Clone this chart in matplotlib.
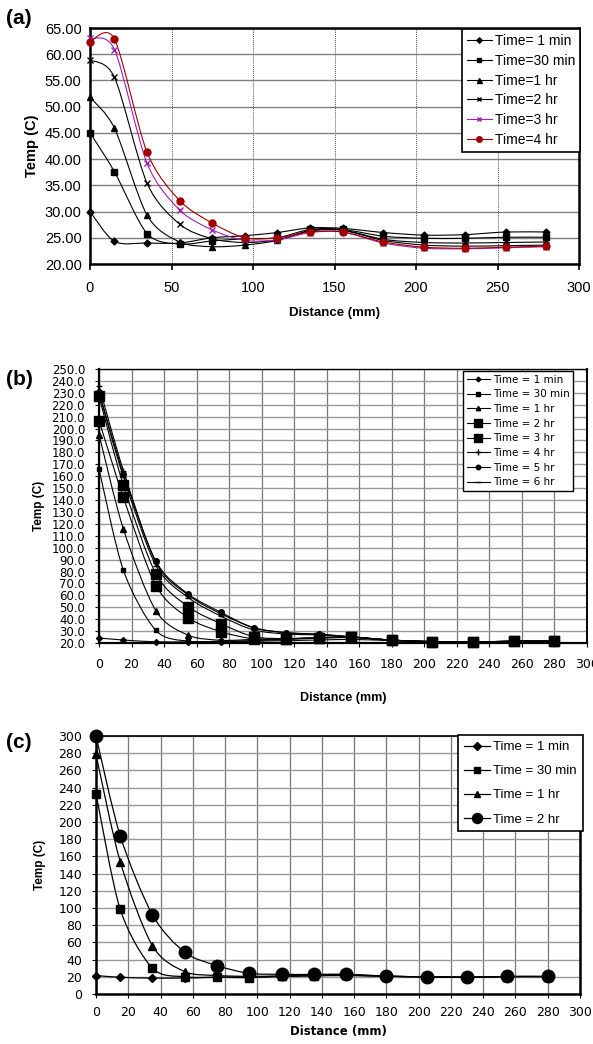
import numpy as np
import matplotlib
matplotlib.use('Agg')
from matplotlib import pyplot as plt
from matplotlib.path import Path
from matplotlib.patches import PathPatch
from matplotlib.lines import Line2D
from matplotlib.ticker import FormatStrFormatter, MultipleLocator

plt.rcParams['font.family'] = ['Liberation Sans', 'DejaVu Sans']

distance = [0, 15, 35, 55, 75, 95, 115, 135, 155, 180, 205, 230, 255, 280]

# panel (a)
labels_a = ['Time= 1 min', 'Time=30 min', 'Time=1 hr', 'Time=2 hr', 'Time=3 hr', 'Time=4 hr']
a_1min = [30.0, 24.3, 24.0, 24.0, 25.0, 25.4, 26.0, 26.9, 26.8, 26.0, 25.5, 25.6, 26.1, 26.1]
a_30min = [45.0, 37.6, 25.8, 23.8, 24.4, 24.8, 25.0, 26.6, 26.6, 25.3, 24.9, 24.9, 25.1, 25.1]
a_1hr = [51.8, 45.9, 29.3, 24.2, 23.3, 23.6, 24.5, 26.4, 26.5, 24.7, 24.1, 24.0, 24.1, 24.2]
a_2hr = [58.9, 55.6, 35.4, 27.6, 24.8, 24.1, 24.6, 26.3, 26.4, 24.5, 23.6, 23.4, 23.5, 23.6]
a_3hr = [63.0, 60.9, 39.2, 30.3, 26.5, 24.5, 24.6, 26.0, 26.1, 24.0, 23.0, 22.9, 23.1, 23.3]
a_4hr = [62.4, 62.9, 41.3, 32.1, 27.8, 25.0, 25.0, 26.1, 26.1, 24.2, 23.2, 23.0, 23.2, 23.4]

# panel (b)
labels_b = ['Time = 1 min', 'Time = 30 min', 'Time = 1 hr', 'Time = 2 hr',
            'Time = 3 hr', 'Time = 4 hr', 'Time = 5 hr', 'Time = 6 hr']
b_1min = [24.2, 22.5, 21.0, 21.0, 21.2, 21.5, 22.0, 22.5, 23.0, 22.0, 21.0, 20.8, 21.3, 21.3]
b_30min = [166.0, 81.0, 30.5, 21.5, 21.5, 22.0, 23.0, 24.0, 24.5, 22.2, 21.0, 20.9, 21.4, 21.4]
b_1hr = [195.0, 115.6, 47.0, 26.5, 22.3, 23.0, 23.5, 24.4, 25.0, 22.3, 21.1, 21.0, 21.5, 21.5]
b_2hr = [206.7, 142.2, 68.2, 41.0, 29.5, 23.5, 23.5, 24.4, 25.0, 22.4, 21.2, 20.9, 21.5, 21.5]
b_3hr = [227.0, 152.5, 78.0, 50.3, 36.2, 25.3, 23.7, 24.6, 25.0, 22.4, 21.2, 20.9, 21.5, 21.5]
b_4hr = [235.8, 164.7, 87.5, 60.0, 44.5, 33.0, 28.5, 27.4, 25.2, 22.4, 21.2, 20.9, 21.5, 21.5]
b_5hr = [231.0, 162.0, 88.5, 61.0, 45.7, 32.6, 28.8, 27.2, 25.2, 22.4, 21.2, 20.9, 21.5, 21.5]
b_6hr = [229.8, 159.5, 85.0, 58.0, 42.5, 31.0, 27.5, 26.8, 25.1, 22.4, 21.2, 20.9, 21.5, 21.5]

# panel (c)
labels_c = ['Time = 1 min', 'Time = 30 min', 'Time = 1 hr', 'Time = 2 hr']
c_1min = [21.5, 19.4, 18.5, 18.6, 19.4, 20.0, 20.5, 21.0, 21.5, 20.5, 20.0, 19.6, 20.2, 20.2]
c_30min = [233.0, 98.5, 30.0, 20.0, 19.5, 19.0, 20.5, 21.5, 22.0, 20.6, 20.0, 19.6, 20.3, 20.3]
c_1hr = [278.5, 154.0, 56.0, 26.0, 21.5, 20.5, 21.0, 22.0, 22.5, 20.7, 20.0, 19.6, 20.3, 20.3]
c_2hr = [300.0, 184.0, 92.0, 48.5, 33.0, 24.0, 22.9, 22.7, 23.0, 20.8, 20.0, 19.6, 20.4, 20.4]

W, H = 593, 1044


def smooth_path(x, y, k=7.0):
    # excel style smoothed line: catmull-rom as cubic bezier
    pts = np.column_stack([np.asarray(x, float), np.asarray(y, float)])
    ext = np.vstack([pts[0], pts, pts[-1]])
    verts = [pts[0]]
    codes = [Path.MOVETO]
    for i in range(len(pts) - 1):
        p0, p1, p2, p3 = ext[i], ext[i + 1], ext[i + 2], ext[i + 3]
        verts += [p1 + (p2 - p0) / k, p2 - (p3 - p1) / k, p2]
        codes += [Path.CURVE4] * 3
    return Path(verts, codes)


def draw_series(ax, y, color, marker, ms, lw=0.9):
    ax.add_patch(PathPatch(smooth_path(distance, y), fill=False, edgecolor=color,
                           lw=lw, zorder=3))
    ax.plot(distance, y, ls='none', marker=marker, color=color, ms=ms,
            mew=1.0, zorder=4, clip_on=False)
    return Line2D([0], [0], color=color, lw=lw, marker=marker, ms=ms * 0.8, mew=1.0)


def make_axes(fig, left, top, right, bottom):
    return fig.add_axes([left / W, 1 - bottom / H, (right - left) / W, (bottom - top) / H])


fig = plt.figure(figsize=(W / 100, H / 100), dpi=100)

# ---- (a)
ax = make_axes(fig, 90, 28, 579, 264)
styles_a = [('black', 'D', 3.5), ('black', 's', 4), ('black', '^', 4.5),
            ('black', 'x', 4), ('#a020b0', 'x', 4), ('#a00000', 'o', 5)]
handles = []
for y, (col, mk, ms) in zip([a_1min, a_30min, a_1hr, a_2hr, a_3hr, a_4hr], styles_a):
    handles.append(draw_series(ax, y, col, mk, ms, lw=0.8))
ax.set_xlim(0, 300)
ax.set_ylim(20, 65)
ax.xaxis.set_major_locator(MultipleLocator(50))
ax.yaxis.set_major_locator(MultipleLocator(5))
ax.yaxis.set_major_formatter(FormatStrFormatter('%.2f'))
ax.grid(axis='y', color='#808080', lw=1.0)
ax.grid(axis='x', color='#555555', lw=0.7, ls=(0, (1, 1)))
ax.set_axisbelow(True)
for s in ax.spines.values():
    s.set_linewidth(1.8)
ax.tick_params(axis='y', labelsize=10.5, length=0, pad=6)
ax.tick_params(axis='x', labelsize=10.5, length=4, width=1.2, pad=8)
ax.set_ylabel('Temp (C)', fontsize=10.5, fontweight='bold', labelpad=4)
ax.set_xlabel('Distance (mm)', fontsize=9.5, fontweight='bold', labelpad=9)
leg = ax.legend(handles, labels_a, loc='upper left', bbox_to_anchor=(462 / W, 1 - 29 / H),
                bbox_transform=fig.transFigure, borderaxespad=0, fancybox=False,
                framealpha=1, edgecolor='black', fontsize=10, handlelength=1.8,
                handletextpad=0.2, labelspacing=0.42, borderpad=0.35)
leg.get_frame().set_linewidth(1.2)
fig.text(6 / W, 1 - 18 / H, '(a)', fontsize=15, fontweight='bold', va='center', ha='left')

# ---- (b)
ax = make_axes(fig, 99, 369, 587, 643)
styles_b = [('D', 3), ('s', 3.5), ('^', 4), ('s', 7), ('s', 7), ('+', 5), ('o', 4), ('_', 5)]
handles = []
for y, (mk, ms) in zip([b_1min, b_30min, b_1hr, b_2hr, b_3hr, b_4hr, b_5hr, b_6hr], styles_b):
    handles.append(draw_series(ax, y, 'black', mk, ms, lw=0.8))
ax.set_xlim(0, 300)
ax.set_ylim(20, 250)
ax.xaxis.set_major_locator(MultipleLocator(20))
ax.yaxis.set_major_locator(MultipleLocator(10))
ax.yaxis.set_major_formatter(FormatStrFormatter('%.1f'))
ax.grid(axis='y', color='#999999', lw=1.0)
ax.grid(axis='x', color='#777777', lw=0.9)
ax.set_axisbelow(True)
for s in ax.spines.values():
    s.set_linewidth(1.0)
ax.spines['left'].set_linewidth(1.6)
ax.spines['bottom'].set_linewidth(1.6)
ax.spines['right'].set_linewidth(1.4)
ax.tick_params(axis='y', labelsize=8.5, length=3, pad=7, labelfontfamily='DejaVu Sans')
ax.tick_params(axis='x', labelsize=9, length=3, pad=8, labelfontfamily='DejaVu Sans')
ax.set_ylabel('Temp (C)', fontsize=8.5, fontweight='bold', labelpad=5)
ax.set_xlabel('Distance (mm)', fontsize=9, fontweight='bold', labelpad=15)
leg = ax.legend(handles, labels_b, loc='upper left', bbox_to_anchor=(463 / W, 1 - 371 / H),
                bbox_transform=fig.transFigure, borderaxespad=0, fancybox=False,
                framealpha=1, edgecolor='black', handlelength=2.2,
                handletextpad=0.3, labelspacing=0.45, borderpad=0.35,
                prop={'family': 'DejaVu Sans', 'size': 7.5})
leg.get_frame().set_linewidth(1.0)
fig.text(6 / W, 1 - 379 / H, '(b)', fontsize=15, fontweight='bold', va='center', ha='left')

# ---- (c)
ax = make_axes(fig, 96, 736, 580, 994)
styles_c = [('D', 4.5), ('s', 5.5), ('^', 6), ('o', 9)]
handles = []
for y, (mk, ms) in zip([c_1min, c_30min, c_1hr, c_2hr], styles_c):
    handles.append(draw_series(ax, y, 'black', mk, ms, lw=0.9))
ax.set_xlim(0, 300)
ax.set_ylim(0, 300)
ax.xaxis.set_major_locator(MultipleLocator(20))
ax.yaxis.set_major_locator(MultipleLocator(20))
ax.yaxis.set_major_formatter(FormatStrFormatter('%d'))
ax.grid(axis='y', color='#999999', lw=1.0)
ax.grid(axis='x', color='#777777', lw=0.9)
ax.set_axisbelow(True)
for s in ax.spines.values():
    s.set_linewidth(1.2)
ax.spines['left'].set_linewidth(1.8)
ax.spines['bottom'].set_linewidth(1.8)
ax.spines['right'].set_linewidth(1.8)
ax.tick_params(axis='y', labelsize=9, length=3, pad=7, labelfontfamily='DejaVu Sans')
ax.tick_params(axis='x', labelsize=9, length=3, pad=6, labelfontfamily='DejaVu Sans')
ax.set_ylabel('Temp (C)', fontsize=8.5, fontweight='bold', labelpad=9)
ax.set_xlabel('Distance (mm)', fontsize=8.5, fontweight='bold', labelpad=4,
              fontfamily='DejaVu Sans')
leg = ax.legend(handles, labels_c, loc='upper left', bbox_to_anchor=(458 / W, 1 - 735 / H),
                bbox_transform=fig.transFigure, borderaxespad=0, fancybox=False,
                framealpha=1, edgecolor='black', fontsize=9.5, handlelength=2.0,
                handletextpad=0.2, labelspacing=0.9, borderpad=0.45)
leg.get_frame().set_linewidth(1.2)
fig.text(6 / W, 1 - 742 / H, '(c)', fontsize=15, fontweight='bold', va='center', ha='left')

fig.savefig('out.png', dpi=100)
